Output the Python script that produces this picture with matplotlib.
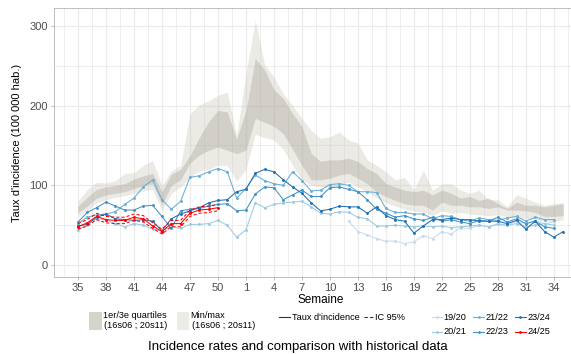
import matplotlib
matplotlib.use("Agg")
import matplotlib.pyplot as plt
import numpy as np
from matplotlib.lines import Line2D
from matplotlib.patches import Rectangle
from matplotlib.ticker import FixedLocator

plt.rcParams["font.family"] = ["Liberation Sans", "DejaVu Sans"]

# season runs from week 35 to week 34; the last slot is the following week 35
WEEKS = list(range(35, 53)) + list(range(1, 36))
TICK_WEEKS = [35, 38, 41, 44, 47, 50, 1, 4, 7, 10, 13, 16, 19, 22, 25, 28, 31, 34]

# historical envelope (16s06 ; 20s11)
hist_min = [62, 68, 78, 82, 85, 87, 90, 93, 95, 68, 90, 98, 110, 118, 120, 125, 125, 105, 120, 164,
            160, 157, 145, 125, 107, 100, 98, 98, 100, 104, 98, 92, 84, 78, 74, 70, 68, 66, 62, 68,
            65, 66, 64, 63, 62, 63, 60, 60, 58, 58, 55, 55, 57]
hist_q1 = [66, 74, 84, 88, 90, 92, 96, 100, 102, 76, 100, 107, 128, 138, 144, 148, 144, 140, 144, 184,
           179, 174, 165, 145, 125, 107, 107, 109, 113, 115, 109, 102, 92, 86, 81, 77, 75, 75, 69, 79,
           75, 75, 73, 73, 71, 73, 69, 69, 68, 66, 61, 61, 62]
hist_q3 = [74, 85, 95, 98, 100, 102, 108, 112, 115, 92, 114, 120, 137, 160, 180, 194, 192, 158, 194, 259,
           245, 220, 209, 190, 174, 140, 130, 132, 132, 134, 130, 121, 115, 102, 98, 94, 92, 94, 88, 94,
           90, 84, 86, 81, 84, 77, 71, 79, 75, 75, 73, 75, 77]
hist_max = [80, 95, 104, 103, 106, 115, 116, 125, 131, 100, 118, 125, 190, 201, 206, 213, 217, 163, 240, 307,
            252, 236, 215, 200, 184, 169, 159, 161, 167, 157, 153, 132, 125, 117, 107, 110, 94, 119, 94, 102,
            102, 94, 90, 94, 82, 82, 73, 88, 84, 79, 75, 77, 78]

nan = np.nan
s1920 = [nan] * 29 + [55, 42, 38, 33, 30, 30, 27, 29, 37, 33, 42, 39, 47, 46, 50, 48, 52, 50, 55, 52,
                      55, 52, 54]
s2021 = [44, 50, 58, 57, 52, 48, 52, 50, 45, 43, 48, 46, 51, 51, 52, 56, 50, 35, 44, 78,
         72, 76, 78, 79, 80, 73, 65, 64, 67, 66, 60, 58, 49, 49, 50, 49, 48, 49, 48, 49,
         47, 48, 49, 50, 48, 51, 50, 52, 48, 50, 52, 50]
s2122 = [52, 60, 63, 64, 67, 76, 84, 98, 107, 82, 70, 80, 110, 112, 117, 121, 117, 84, 96, 113,
         106, 102, 100, 117, 106, 93, 94, 101, 102, 100, 92, 92, 91, 71, 66, 66, 64, 64, 58, 62,
         61, 57, 55, 59, 57, 56, 59, 61, 55, 60, 57, 57]
s2223 = [54, 66, 72, 79, 74, 69, 69, 74, 75, 61, 46, 68, 70, 71, 74, 76, 77, 68, 69, 89,
         98, 97, 82, 88, 94, 86, 86, 97, 98, 95, 92, 82, 70, 65, 60, 62, 58, 56, 60, 55,
         57, 54, 52, 56, 55, 60, 54, 58, 52, 55, 48, 46]
s2324 = [49, 51, 60, 64, 58, 57, 56, 57, 55, 43, 58, 64, 68, 72, 78, 81, 82, 92, 95, 115,
         120, 117, 107, 98, 90, 78, 68, 70, 74, 73, 73, 65, 73, 62, 57, 55, 40, 49, 57, 57,
         59, 57, 57, 55, 55, 55, 52, 56, 45, 55, 42, 35, 42]
s2425 = [48, 53, 61, 57, 56, 56, 60, 58, 49, 42, 52, 52, 65, 69, 70, 72]
s2425_lo = [45, 49, 57, 53, 52, 52, 56, 54, 46, 39, 48, 48, 61, 65, 66, 68]
s2425_hi = [52, 57, 65, 61, 60, 60, 64, 62, 53, 45, 56, 56, 69, 73, 74, 76]

SEASONS = ["19/20", "20/21", "21/22", "22/23", "23/24", "24/25"]
SEASON_DATA = [s1920, s2021, s2122, s2223, s2324, s2425]
SEASON_COLORS = ["#c6dbef", "#9ecae1", "#6baed6", "#4292c6", "#2171b5", "#ff0000"]

COL_Q = "#d5d3cc"
COL_MM = "#ecebe5"
COL_GRID = "#ebebeb"
COL_TEXT = "#4d4d4d"

W, H = 571, 354
fig = plt.figure(figsize=(W / 100, H / 100), dpi=100)


def fx(px):
    return px / W


def fy(py):
    return 1 - py / H


ax = fig.add_axes([fx(54), fy(277), (587 - 54) / W, (277 - 8) / H])

xb = np.arange(len(hist_min))
ax.fill_between(xb, hist_min, hist_max, color="#c8c4b4", alpha=0.35, lw=0, zorder=1)
ax.fill_between(xb, hist_q1, hist_q3, color="#a09b91", alpha=0.34, lw=0, zorder=2)

for name, vals, col in zip(SEASONS, SEASON_DATA, SEASON_COLORS):
    x = np.arange(len(vals))
    ax.plot(x, vals, color=col, lw=0.75, marker="o", ms=2.1, mew=0, zorder=3)

x25 = np.arange(len(s2425))
ax.plot(x25, s2425_lo, color="#ff0000", lw=0.75, ls=(0, (3, 2)), zorder=3)
ax.plot(x25, s2425_hi, color="#ff0000", lw=0.75, ls=(0, (3, 2)), zorder=3)

ax.set_xlim(-2.57, 54.55)
ax.set_ylim(-15, 322.5)

ax.xaxis.set_major_locator(FixedLocator([WEEKS.index(w) for w in TICK_WEEKS]))
ax.set_xticklabels([str(w) for w in TICK_WEEKS])
ax.xaxis.set_minor_locator(FixedLocator(np.arange(-1.5, 54, 3)))
ax.yaxis.set_major_locator(FixedLocator([0, 100, 200, 300]))
ax.yaxis.set_minor_locator(FixedLocator([50, 150, 250]))

ax.grid(which="major", color=COL_GRID, lw=0.9, zorder=0)
ax.grid(which="minor", color=COL_GRID, lw=0.6, zorder=0)
ax.set_axisbelow(True)
ax.tick_params(which="major", length=2.5, width=0.6, color="#b3b3b3",
               labelcolor=COL_TEXT, labelsize=8, pad=2)
ax.tick_params(which="minor", length=0)
for sp in ax.spines.values():
    sp.set_color("#b3b3b3")
    sp.set_linewidth(0.6)

ax.set_ylabel("Taux d'incidence (100 000 hab.)", fontsize=8, color="black")
ax.yaxis.set_label_coords((22 - 54) / (587 - 54), 0.5)

fig.text(fx(320.7), fy(300), "Semaine", fontsize=8.5, ha="center", va="center")
fig.text(fx(297.5), fy(347), "Incidence rates and comparison with historical data",
         fontsize=9.5, ha="center", va="center")

# legend: historical envelope keys
fig.add_artist(Rectangle((fx(89), fy(330)), fx(13), 18 / H, color=COL_Q, lw=0))
fig.add_artist(Rectangle((fx(177), fy(330)), fx(12), 18 / H, color=COL_MM, lw=0))
LEG_FS = 6.6
fig.text(fx(103), fy(315.5), "1er/3e quartiles", fontsize=LEG_FS, va="center")
fig.text(fx(104.5), fy(325.5), "(16s06 ; 20s11)", fontsize=LEG_FS, va="center")
fig.text(fx(190.5), fy(315.5), "Min/max", fontsize=LEG_FS, va="center")
fig.text(fx(192.5), fy(325.5), "(16s06 ; 20s11)", fontsize=LEG_FS, va="center")

# legend: line types
fig.add_artist(Line2D([fx(279.3), fx(290)], [fy(317.3)] * 2, color="#333333", lw=0.8))
fig.text(fx(291.7), fy(317.3), "Taux d'incidence", fontsize=LEG_FS, va="center")
fig.add_artist(Line2D([fx(363.5), fx(373.3)], [fy(317.3)] * 2, color="#333333", lw=0.8,
                      ls=(0, (3, 2))))
fig.text(fx(375), fy(317.3), "IC 95%", fontsize=LEG_FS, va="center")

# legend: seasons, two rows
leg_x = [431.7, 473.3, 515.0]
leg_y = [317.3, 331.7]
for k, (name, col) in enumerate(zip(SEASONS, SEASON_COLORS)):
    cx, ry = leg_x[k // 2], leg_y[k % 2]
    fig.add_artist(Line2D([fx(cx), fx(cx + 10.6)], [fy(ry)] * 2, color=col, lw=0.8))
    fig.add_artist(Line2D([fx(cx + 5.3)], [fy(ry)], color=col, marker="o", ms=2.0, mew=0))
    fig.text(fx(cx + 12), fy(ry), name, fontsize=LEG_FS, va="center")

fig.savefig("out.png", dpi=100, facecolor="white")
